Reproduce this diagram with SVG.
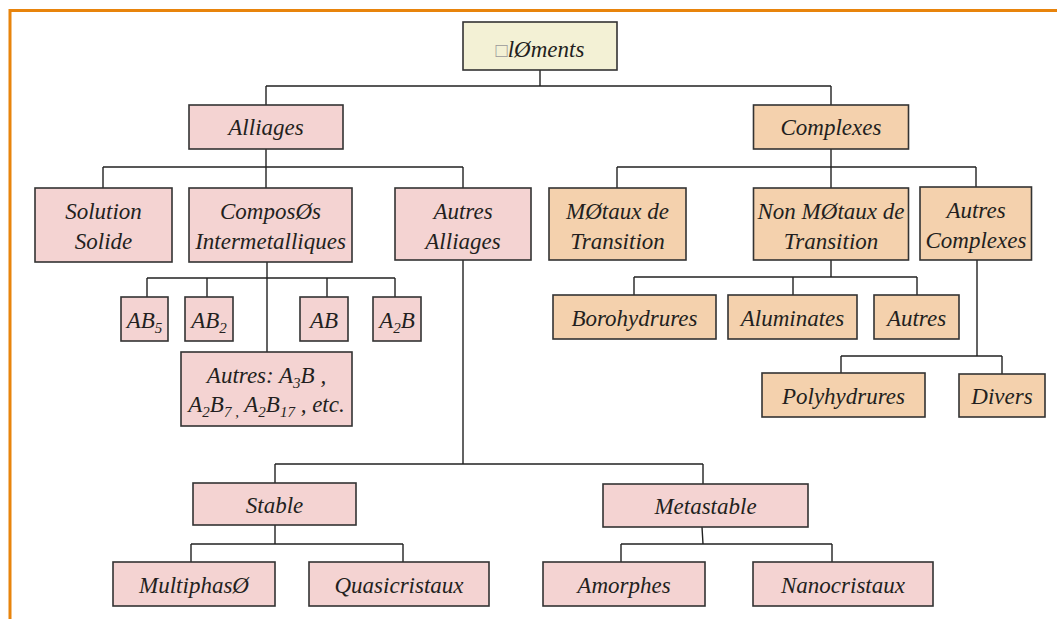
<svg xmlns="http://www.w3.org/2000/svg" width="1057" height="619" viewBox="0 0 1057 619">
<style>
  .frame { fill: none; stroke: #e8840c; stroke-width: 3; }
  .node rect { stroke: #333; stroke-width: 1.6; }
  .pink rect { fill: #f4d3d2; }
  .orange rect { fill: #f4d1ad; }
  .cream rect { fill: #f3f1d5; }
  text { font-family: "Liberation Serif", "Times New Roman", serif; font-style: italic; font-size: 23px; fill: #231f20; text-anchor: middle; }
  .sub { font-size: 15px; }
  #connectors path { fill: none; stroke: #222; stroke-width: 1.4; }
</style>
<rect width="1057" height="619" fill="#ffffff"/>
<path class="frame" d="M10,619 V10.5 H1057"/>

<g id="connectors">
  <path d="M540,70 V86 M266,86 H831 M266,86 V105 M831,86 V105"/>
  <path d="M266,149 V188 M103,167 H463 M103,167 V188 M463,167 V188"/>
  <path d="M267,262 V352 M147,278 H395 M147,278 V297 M207,278 V297 M327,278 V297 M395,278 V297"/>
  <path d="M463,260 V464 M275,464 H703 M275,464 V483 M703,464 V484"/>
  <path d="M275,525 V544 M191,544 H403 M191,544 V562 M403,544 V562"/>
  <path d="M702,527 L703,544 M621,544 H832 M621,544 V562 M832,544 V562"/>
  <path d="M831,149 V188 M617,167 H976 M617,167 V188 M976,167 V187"/>
  <path d="M831,260 V277 M634,277 H917 M634,277 V295 M793,277 V295 M917,277 V295"/>
  <path d="M977,260 V356 M841,356 H1002 M841,356 V373 M1002,356 V374"/>
</g>

<g id="elements" class="node cream"><rect x="463" y="22" width="154" height="48"/><text x="540" y="57"><tspan fill="#999" font-style="normal" font-size="20">□</tspan>lØments</text></g>

<g id="alliages" class="node pink"><rect x="189" y="105" width="154" height="44"/><text x="266" y="135">Alliages</text></g>
<g id="complexes" class="node orange"><rect x="753.5" y="105" width="155" height="44"/><text x="831" y="135">Complexes</text></g>

<g id="solution-solide" class="node pink"><rect x="35" y="188" width="137" height="74"/><text x="103.5" y="219">Solution</text><text x="103.5" y="249">Solide</text></g>
<g id="composes" class="node pink"><rect x="189" y="188" width="163" height="74"/><text x="270.5" y="219">ComposØs</text><text x="270.5" y="249">Intermetalliques</text></g>
<g id="autres-alliages" class="node pink"><rect x="395" y="188" width="136" height="72"/><text x="463" y="219">Autres</text><text x="463" y="249">Alliages</text></g>

<g id="metaux" class="node orange"><rect x="549" y="188" width="137" height="72"/><text x="617.5" y="219">MØtaux de</text><text x="617.5" y="249">Transition</text></g>
<g id="non-metaux" class="node orange"><rect x="753.5" y="188" width="155" height="72"/><text x="831" y="219">Non MØtaux de</text><text x="831" y="249">Transition</text></g>
<g id="autres-complexes" class="node orange"><rect x="920" y="187" width="111.5" height="73"/><text x="976" y="218">Autres</text><text x="976" y="248">Complexes</text></g>

<g id="ab5" class="node pink"><rect x="121" y="297" width="47" height="44"/><text x="144.5" y="328">AB<tspan class="sub" dy="5">5</tspan></text></g>
<g id="ab2" class="node pink"><rect x="185" y="297" width="48" height="44"/><text x="209" y="328">AB<tspan class="sub" dy="5">2</tspan></text></g>
<g id="ab" class="node pink"><rect x="300" y="297" width="48" height="44"/><text x="324" y="328">AB</text></g>
<g id="a2b" class="node pink"><rect x="373" y="297" width="48" height="44"/><text x="397" y="328">A<tspan class="sub" dy="5">2</tspan><tspan dy="-5">B</tspan></text></g>

<g id="autres-a3b" class="node pink"><rect x="181" y="352" width="171" height="74"/><text x="266.5" y="383">Autres: A<tspan class="sub" dy="5">3</tspan><tspan dy="-5">B ,</tspan></text><text x="266.5" y="412">A<tspan class="sub" dy="5">2</tspan><tspan dy="-5">B</tspan><tspan class="sub" dy="5">7 ,</tspan><tspan dy="-5"> A</tspan><tspan class="sub" dy="5">2</tspan><tspan dy="-5">B</tspan><tspan class="sub" dy="5">17</tspan><tspan dy="-5"> , etc.</tspan></text></g>

<g id="borohydrures" class="node orange"><rect x="553" y="295" width="163" height="44"/><text x="634.5" y="326">Borohydrures</text></g>
<g id="aluminates" class="node orange"><rect x="728" y="295" width="129" height="44"/><text x="792.5" y="326">Aluminates</text></g>
<g id="autres" class="node orange"><rect x="874" y="295" width="85" height="44"/><text x="916.5" y="326">Autres</text></g>

<g id="polyhydrures" class="node orange"><rect x="762" y="373" width="163" height="44"/><text x="843.5" y="404">Polyhydrures</text></g>
<g id="divers" class="node orange"><rect x="959" y="374" width="86" height="43"/><text x="1002" y="404">Divers</text></g>

<g id="stable" class="node pink"><rect x="193" y="483" width="163" height="42"/><text x="274.5" y="513">Stable</text></g>
<g id="metastable" class="node pink"><rect x="603" y="484" width="205" height="43"/><text x="705.5" y="514">Metastable</text></g>

<g id="multiphase" class="node pink"><rect x="113" y="562" width="162" height="44"/><text x="194" y="593">MultiphasØ</text></g>
<g id="quasicristaux" class="node pink"><rect x="309" y="562" width="180" height="44"/><text x="399" y="593">Quasicristaux</text></g>
<g id="amorphes" class="node pink"><rect x="543" y="562" width="162" height="44"/><text x="624" y="593">Amorphes</text></g>
<g id="nanocristaux" class="node pink"><rect x="753" y="562" width="180" height="44"/><text x="843" y="593">Nanocristaux</text></g>
</svg>
